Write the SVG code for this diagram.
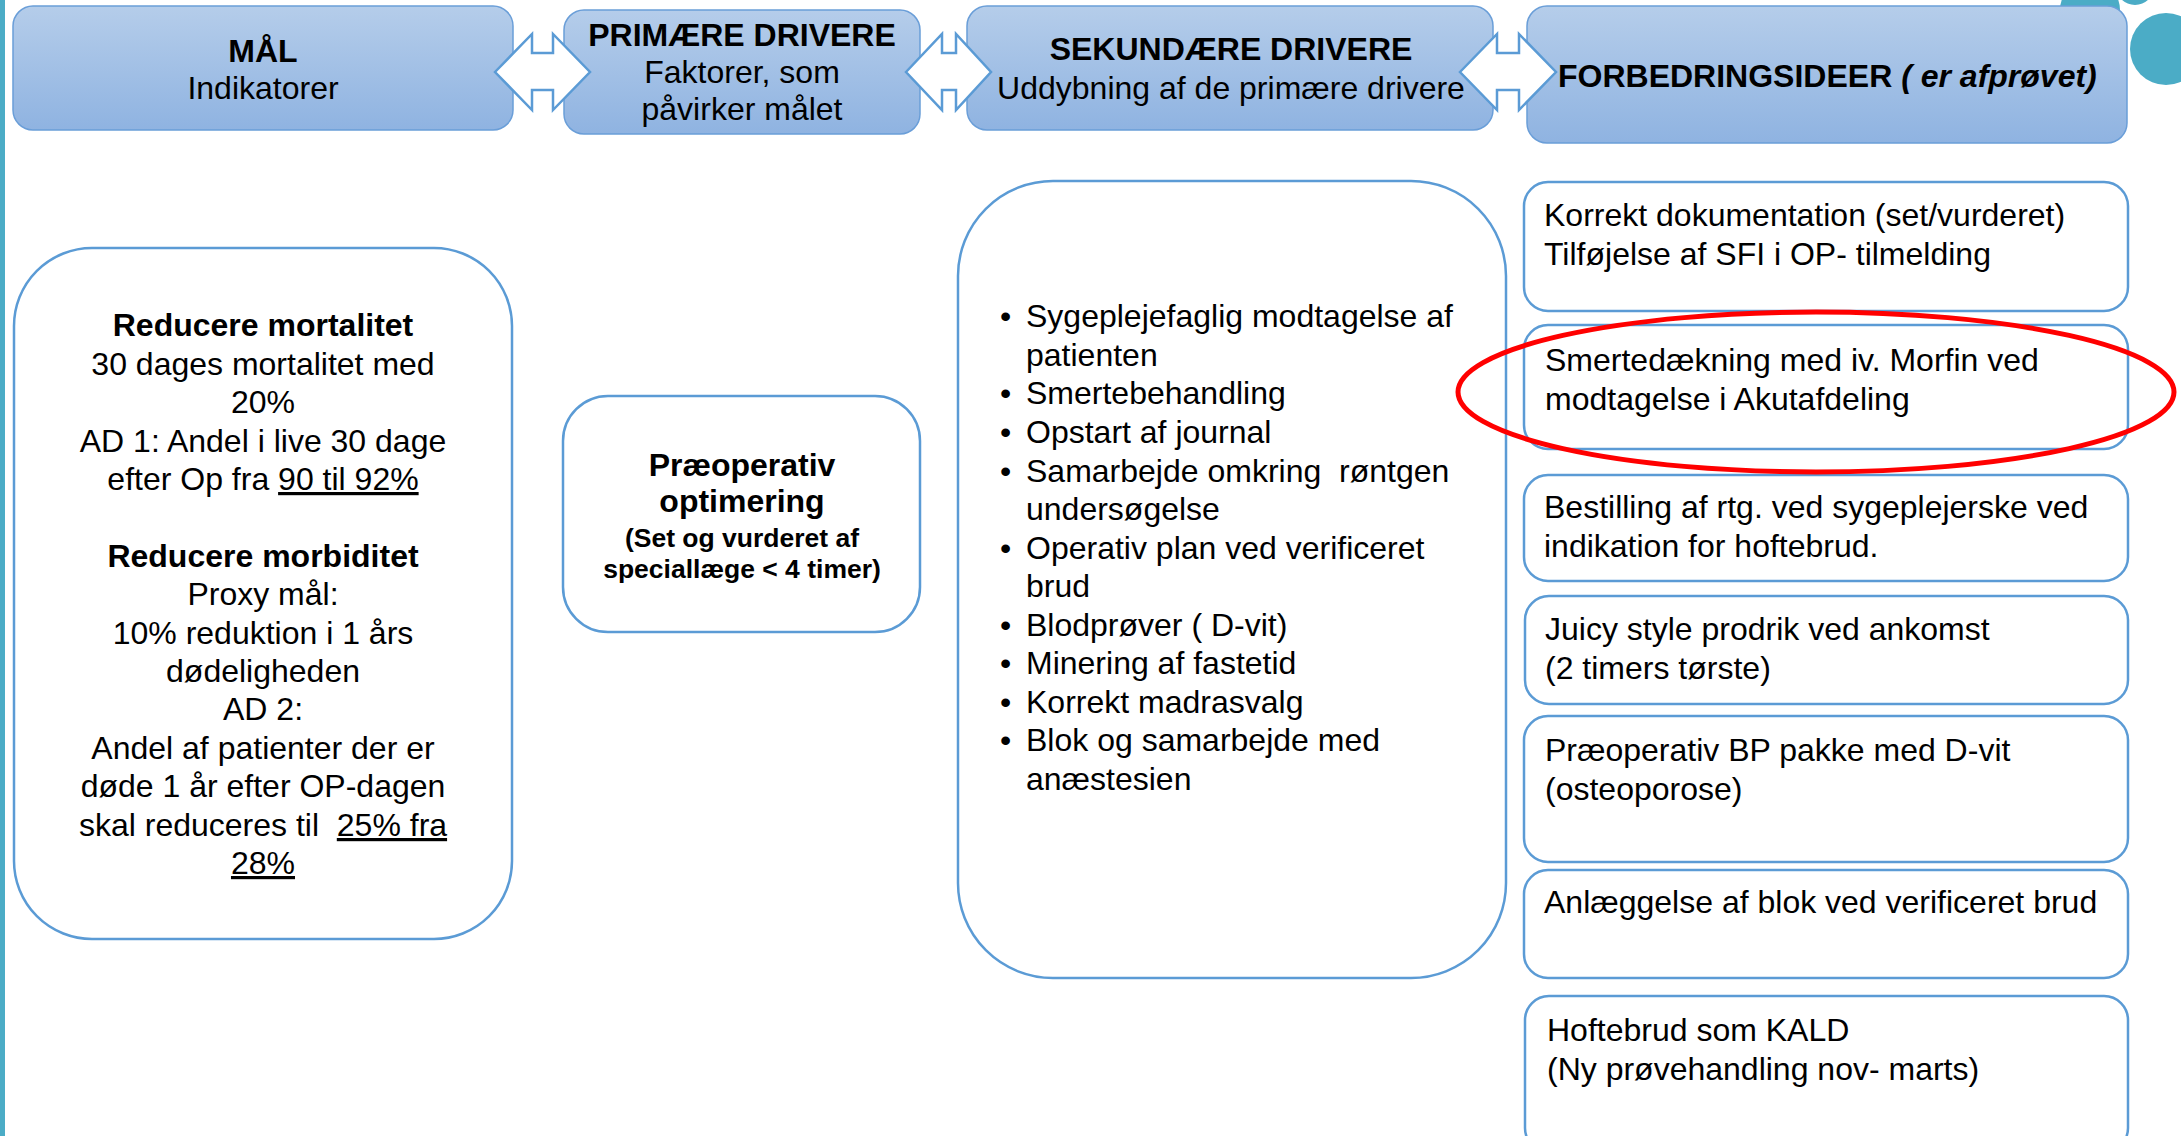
<svg xmlns="http://www.w3.org/2000/svg" width="2181" height="1136" viewBox="0 0 2181 1136">
<defs>
<linearGradient id="hdr" x1="0" y1="0" x2="0" y2="1">
<stop offset="0" stop-color="#b5cdea"/>
<stop offset="1" stop-color="#8fb3e1"/>
</linearGradient>
<style>
.hbox{fill:url(#hdr);stroke:#6a9ed8;stroke-width:1.5}
.box{fill:#ffffff;stroke:#5b9bd5;stroke-width:2.5}
.arrow{fill:#ffffff;stroke:#5b9bd5;stroke-width:2.5;stroke-linejoin:miter}
.t{font-family:"Liberation Sans",Arial,sans-serif;font-size:32px;fill:#000000}
.b{font-weight:bold}
.c{text-anchor:middle}
.s{font-size:26.5px;font-weight:bold}
.u{text-decoration:underline}
.deco{fill:#4bacc6}
</style>
</defs>
<rect width="2181" height="1136" fill="#ffffff"/>
<g id="decoration">
<rect x="0" y="0" width="5" height="1136" class="deco"/>
<circle cx="2090" cy="10" r="30" class="deco"/>
<circle cx="2135" cy="-14" r="19" class="deco"/>
<circle cx="2166" cy="49" r="36" class="deco"/>
</g>
<g id="header-maal">
<rect x="13" y="6" width="500" height="124" rx="20" class="hbox"/>
<text class="t b c" x="263" y="62">MÅL</text>
<text class="t c" x="263" y="99">Indikatorer</text>
</g>
<g id="header-primaere">
<rect x="564" y="10" width="356" height="124" rx="20" class="hbox"/>
<text class="t b c" x="742" y="46">PRIMÆRE DRIVERE</text>
<text class="t c" x="742" y="83">Faktorer, som</text>
<text class="t c" x="742" y="120">påvirker målet</text>
</g>
<g id="header-sekundaere">
<rect x="967" y="6" width="526" height="124" rx="20" class="hbox"/>
<text class="t b c" x="1231" y="60">SEKUNDÆRE DRIVERE</text>
<text class="t c" x="1231" y="99">Uddybning af de primære drivere</text>
</g>
<g id="header-forbedring">
<rect x="1527" y="6" width="600" height="137" rx="20" class="hbox"/>
<text class="t b" x="1558" y="87">FORBEDRINGSIDEER <tspan font-style="italic">( er afprøvet)</tspan></text>
</g>
<g id="connectors">
<path class="arrow" d="M495,72 L532,34 L532,53 L553,53 L553,34 L590,72 L553,110 L553,90 L532,90 L532,110 Z"/>
<path class="arrow" d="M906,72 L942,34 L942,53 L956,53 L956,34 L991,72 L956,110 L956,90 L942,90 L942,110 Z"/>
<path class="arrow" d="M1460,72 L1497,34 L1497,53 L1519,53 L1519,34 L1556,72 L1519,110 L1519,90 L1497,90 L1497,110 Z"/>
</g>
<g id="node-maal">
<rect x="14" y="248" width="498" height="691" rx="78" class="box"/>
<text class="t b c" x="263" y="336">Reducere mortalitet</text>
<text class="t c" x="263" y="375">30 dages mortalitet med</text>
<text class="t c" x="263" y="413">20%</text>
<text class="t c" x="263" y="452">AD 1: Andel i live 30 dage</text>
<text class="t c" x="263" y="490">efter Op fra <tspan class="u">90 til 92%</tspan></text>
<text class="t b c" x="263" y="567">Reducere morbiditet</text>
<text class="t c" x="263" y="605">Proxy mål:</text>
<text class="t c" x="263" y="644">10% reduktion i 1 års</text>
<text class="t c" x="263" y="682">dødeligheden</text>
<text class="t c" x="263" y="720">AD 2:</text>
<text class="t c" x="263" y="759">Andel af patienter der er</text>
<text class="t c" x="263" y="797">døde 1 år efter OP-dagen</text>
<text class="t c" x="263" y="836" xml:space="preserve" style="white-space:pre">skal reduceres til  <tspan class="u">25% fra</tspan></text>
<text class="t c u" x="263" y="874">28%</text>
</g>
<g id="node-praeoperativ">
<rect x="563" y="396" width="357" height="236" rx="45" class="box"/>
<text class="t b c" x="742" y="476">Præoperativ</text>
<text class="t b c" x="742" y="512">optimering</text>
<text class="t s c" x="742" y="547">(Set og vurderet af</text>
<text class="t s c" x="742" y="578">speciallæge &lt; 4 timer)</text>
</g>
<g id="node-sekundaere">
<rect x="958" y="181" width="548" height="797" rx="95" class="box"/>
<g class="t">
<text x="1000" y="327">•</text><text x="1026" y="327">Sygeplejefaglig modtagelse af</text>
<text x="1026" y="366">patienten</text>
<text x="1000" y="404">•</text><text x="1026" y="404">Smertebehandling</text>
<text x="1000" y="443">•</text><text x="1026" y="443">Opstart af journal</text>
<text x="1000" y="482">•</text><text x="1026" y="482" xml:space="preserve" style="white-space:pre">Samarbejde omkring  røntgen</text>
<text x="1026" y="520">undersøgelse</text>
<text x="1000" y="559">•</text><text x="1026" y="559">Operativ plan ved verificeret</text>
<text x="1026" y="597">brud</text>
<text x="1000" y="636">•</text><text x="1026" y="636">Blodprøver ( D-vit)</text>
<text x="1000" y="674">•</text><text x="1026" y="674">Minering af fastetid</text>
<text x="1000" y="713">•</text><text x="1026" y="713">Korrekt madrasvalg</text>
<text x="1000" y="751">•</text><text x="1026" y="751">Blok og samarbejde med</text>
<text x="1026" y="790">anæstesien</text>
</g>
</g>
<g id="idea-1">
<rect x="1524" y="182" width="604" height="129" rx="24" class="box"/>
<text class="t" x="1544" y="226">Korrekt dokumentation (set/vurderet)</text>
<text class="t" x="1544" y="265">Tilføjelse af SFI i OP- tilmelding</text>
</g>
<g id="idea-2">
<rect x="1524" y="325" width="604" height="124" rx="24" class="box"/>
<text class="t" x="1545" y="371">Smertedækning med iv. Morfin ved</text>
<text class="t" x="1545" y="410">modtagelse i Akutafdeling</text>
</g>
<g id="idea-3">
<rect x="1524" y="475" width="604" height="106" rx="24" class="box"/>
<text class="t" x="1544" y="518">Bestilling af rtg. ved sygeplejerske ved</text>
<text class="t" x="1544" y="557">indikation for hoftebrud.</text>
</g>
<g id="idea-4">
<rect x="1525" y="596" width="603" height="108" rx="24" class="box"/>
<text class="t" x="1545" y="640">Juicy style prodrik ved ankomst</text>
<text class="t" x="1545" y="679">(2 timers tørste)</text>
</g>
<g id="idea-5">
<rect x="1524" y="716" width="604" height="146" rx="24" class="box"/>
<text class="t" x="1545" y="761">Præoperativ BP pakke med D-vit</text>
<text class="t" x="1545" y="800">(osteoporose)</text>
</g>
<g id="idea-6">
<rect x="1524" y="870" width="604" height="108" rx="24" class="box"/>
<text class="t" x="1544" y="913">Anlæggelse af blok ved verificeret brud</text>
</g>
<g id="idea-7">
<rect x="1525" y="996" width="603" height="156" rx="24" class="box"/>
<text class="t" x="1547" y="1041">Hoftebrud som KALD</text>
<text class="t" x="1547" y="1080">(Ny prøvehandling nov- marts)</text>
</g>
<g id="highlight">
<ellipse cx="1816" cy="392" rx="358" ry="80" fill="none" stroke="#ff0000" stroke-width="5"/>
</g>
</svg>
